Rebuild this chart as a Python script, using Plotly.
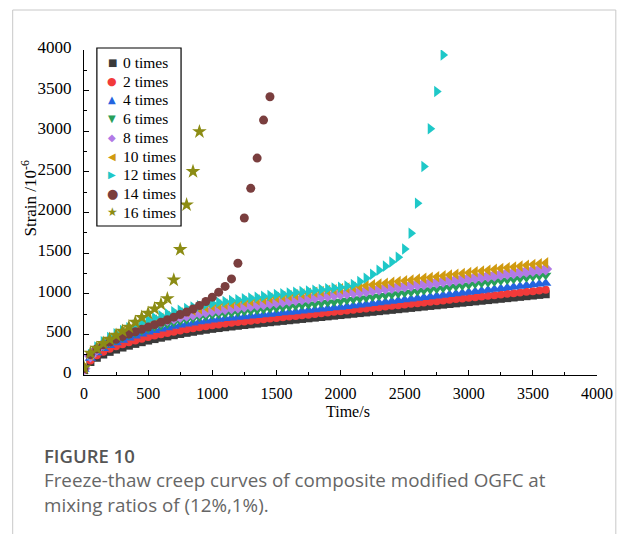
import plotly.graph_objects as go

TIME_S = [0, 50, 100, 150, 200, 250, 300, 350, 400, 450, 500, 550, 600, 650, 700, 750, 800, 850, 900, 950,
          1000, 1050, 1100, 1150, 1200, 1250, 1300, 1350, 1400, 1450, 1500, 1550, 1600, 1650, 1700, 1750,
          1800, 1850, 1900, 1950, 2000, 2050, 2100, 2150, 2200, 2250, 2300, 2350, 2400, 2450, 2500, 2550,
          2600, 2650, 2700, 2750, 2800, 2850, 2900, 2950, 3000, 3050, 3100, 3150, 3200, 3250, 3300, 3350,
          3400, 3450, 3500, 3550, 3600]

S0 = [60, 160, 212, 252, 285, 313, 338, 361, 383, 404, 424, 442, 459, 475, 490, 505, 519, 532, 545, 557, 568,
      578, 588, 597, 606, 615, 624, 633, 642, 650, 658, 666, 674, 682, 690, 698, 706, 714, 722, 730, 738,
      746, 754, 762, 770, 778, 786, 794, 802, 810, 818, 826, 834, 842, 850, 858, 866, 874, 882, 890, 898,
      906, 914, 922, 930, 938, 946, 954, 962, 970, 978, 986, 994]
S2 = [65, 180, 242, 287, 323, 353, 380, 404, 426, 447, 467, 485, 502, 518, 533, 548, 562, 575, 588, 600, 611,
      623, 633, 642, 651, 660, 669, 678, 687, 695, 703, 711, 719, 727, 735, 743, 752, 760, 769, 777, 786,
      794, 802, 811, 819, 827, 835, 843, 852, 860, 868, 876, 884, 893, 901, 909, 917, 925, 934, 942, 950,
      958, 966, 975, 983, 991, 999, 1007, 1016, 1024, 1032, 1040, 1048]
S4 = [70, 205, 275, 325, 363, 397, 427, 454, 480, 505, 528, 548, 566, 583, 599, 614, 628, 641, 654, 666, 678,
      686, 694, 702, 710, 718, 725, 733, 741, 749, 757, 765, 772, 780, 788, 796, 804, 812, 819, 827, 835,
      844, 853, 863, 872, 881, 890, 899, 909, 918, 927, 936, 946, 955, 964, 973, 982, 992, 1001, 1010, 1019,
      1029, 1038, 1047, 1056, 1065, 1075, 1084, 1093, 1102, 1112, 1121, 1130]
S6 = [75, 220, 298, 352, 395, 432, 464, 493, 520, 545, 569, 590, 610, 629, 647, 664, 680, 695, 710, 724, 738,
      747, 755, 764, 772, 781, 789, 798, 806, 815, 823, 832, 841, 849, 858, 866, 875, 883, 892, 900, 909,
      919, 929, 939, 949, 959, 969, 979, 989, 999, 1009, 1019, 1029, 1039, 1049, 1059, 1069, 1079, 1089,
      1099, 1109, 1119, 1129, 1139, 1149, 1159, 1169, 1179, 1188, 1198, 1208, 1218, 1228]
S8 = [80, 235, 320, 380, 428, 469, 505, 537, 566, 593, 618, 641, 662, 682, 701, 719, 736, 752, 768, 783, 797,
      807, 817, 827, 838, 848, 858, 868, 878, 888, 899, 909, 919, 929, 939, 949, 960, 970, 980, 990, 1000,
      1010, 1019, 1029, 1038, 1048, 1057, 1067, 1076, 1086, 1096, 1105, 1115, 1124, 1134, 1143, 1153, 1163,
      1172, 1182, 1191, 1201, 1210, 1220, 1229, 1239, 1249, 1258, 1268, 1277, 1287, 1296, 1306]
S10 = [85, 245, 335, 397, 447, 490, 528, 562, 594, 623, 651, 676, 699, 721, 742, 762, 781, 799, 816, 833, 849,
       860, 870, 881, 891, 902, 912, 923, 933, 944, 954, 965, 976, 986, 997, 1007, 1018, 1028, 1039, 1049, 1060,
       1070, 1080, 1090, 1100, 1110, 1120, 1130, 1140, 1150, 1160, 1170, 1180, 1190, 1200, 1210, 1220, 1230,
       1240, 1250, 1260, 1270, 1280, 1290, 1300, 1310, 1320, 1330, 1340, 1350, 1360, 1370, 1380]
S12 = [90, 252, 345, 410, 462, 507, 546, 581, 614, 646, 676, 704, 730, 754, 777, 798, 818, 836, 853, 869, 884,
       895, 905, 916, 926, 937, 948, 958, 969, 979, 990, 999, 1008, 1017, 1026, 1035, 1044, 1053, 1062, 1071, 1080,
       1095, 1115, 1150, 1190, 1240, 1290, 1340, 1390, 1450, 1550, 1745, 2115, 2565, 3030, 3490, 3940]
S14 = [80, 250, 320, 370, 405, 440, 475, 505, 532, 562, 590, 620, 650, 680, 712, 745, 775, 812, 855, 905, 958,
       1020, 1090, 1183, 1376, 1932, 2297, 2670, 3137, 3424]
S16 = [90, 270, 330, 390, 440, 490, 540, 590, 650, 710, 760, 815, 870, 940, 1170, 1545, 2095, 2505, 2995]

NAMES = ["0 times", "2 times", "4 times", "6 times", "8 times", "10 times", "12 times", "14 times", "16 times"]
SERIES = [S0, S2, S4, S6, S8, S10, S12, S14, S16]
COLORS = ["#3a3a3a", "#f23a3a", "#2464e0", "#28a05a", "#b27ae6", "#d09a10", "#1ec8c8", "#7a3e3e", "#8c8c14"]
SYMBOLS = ["square", "circle", "triangle-up", "triangle-down", "diamond", "triangle-left", "triangle-right",
           "circle", "star"]
SIZES = [8, 8, 10, 10, 10, 10, 10, 9, 11]
GLYPHS = ["■", "●", "▲", "▼", "◆", "◀", "▶", "●", "★"]
GLYPH_SIZES = [10, 11, 10, 10, 10, 10, 10, 13, 12]

# layout geometry (pixels of the 625x534 page)
L, R, T, B = 84, 23, 50, 159
PW, PH = 625 - L - R, 534 - T - B


def px(x):
    return (x - L) / PW


def py(y):
    return (534 - B - y) / PH


fig = go.Figure()
for name, ys, col, sym, sz in zip(NAMES, SERIES, COLORS, SYMBOLS, SIZES):
    fig.add_trace(go.Scatter(x=TIME_S[:len(ys)], y=ys, mode="markers", name=name, showlegend=False,
                             marker=dict(symbol=sym, color=col, size=sz, line=dict(width=0))))

serif = "Liberation Serif, Times New Roman, serif"
sans = "Open Sans, Noto Sans, sans-serif"

axis_common = dict(showline=True, linecolor="black", linewidth=1.3, ticks="inside", ticklen=5, tickwidth=1.3,
                   tickcolor="black", showgrid=False, zeroline=False, mirror=False,
                   minor=dict(ticks="inside", ticklen=3, tickwidth=1.2, tickcolor="black", dtick=250))

annotations = [
    dict(text="Time/s", xref="paper", yref="paper", x=px(351), y=py(411), showarrow=False,
         xanchor="center", yanchor="middle", font=dict(family=serif, size=16, color="black")),
    dict(text="Strain /10<sup>-6</sup>", xref="paper", yref="paper", x=px(28), y=py(198), showarrow=False,
         textangle=-90, xanchor="center", yanchor="middle", font=dict(family=serif, size=17, color="black")),
    dict(text="FIGURE 10", xref="paper", yref="paper", x=px(42), y=py(455), showarrow=False,
         xanchor="left", yanchor="middle", font=dict(family=sans, size=18.5, color="#555555", weight=600)),
    dict(text="Freeze-thaw creep curves of composite modified OGFC at", xref="paper", yref="paper",
         x=px(42), y=py(480), showarrow=False, xanchor="left", yanchor="middle",
         font=dict(family=sans, size=18.8, color="#666666")),
    dict(text="mixing ratios of (12%,1%).", xref="paper", yref="paper",
         x=px(42), y=py(505), showarrow=False, xanchor="left", yanchor="middle",
         font=dict(family=sans, size=18.8, color="#666666")),
]

# legend drawn as a boxed list of symbol glyphs and labels
LEG_Y = [62.3, 81, 99.5, 118.3, 137.2, 156, 174.6, 193.3, 212]
for name, col, g, gs, yy in zip(NAMES, COLORS, GLYPHS, GLYPH_SIZES, LEG_Y):
    annotations.append(dict(text=g, xref="paper", yref="paper", x=px(112.5), y=py(yy), showarrow=False,
                            xanchor="center", yanchor="middle",
                            font=dict(family="DejaVu Sans", size=gs, color=col)))
    annotations.append(dict(text=name, xref="paper", yref="paper", x=px(121), y=py(yy), showarrow=False,
                            xanchor="left", yanchor="middle",
                            font=dict(family=serif, size=15.5, color="black")))

fig.update_layout(
    width=625, height=534,
    margin=dict(l=L, r=R, t=T, b=B),
    paper_bgcolor="white", plot_bgcolor="white",
    xaxis=dict(range=[0, 4000], dtick=500, tickfont=dict(family=serif, size=16, color="black"),
               ticklabelstandoff=4, **axis_common),
    yaxis=dict(range=[0, 4000], dtick=500, tickfont=dict(family=serif, size=17, color="black"),
               ticklabelstandoff=8, ticklabelshift=-3, **axis_common),
    showlegend=False,
    shapes=[
        dict(type="rect", xref="paper", yref="paper", x0=px(12), x1=px(621), y0=py(560), y1=py(10),
             line=dict(color="#c8c8c8", width=1), fillcolor="rgba(0,0,0,0)", layer="below"),
        dict(type="rect", xref="paper", yref="paper", x0=px(97), x1=px(182), y0=py(226), y1=py(48),
             line=dict(color="black", width=1.2), fillcolor="white", layer="above"),
    ],
    annotations=annotations,
)

fig.write_html("out.html")
